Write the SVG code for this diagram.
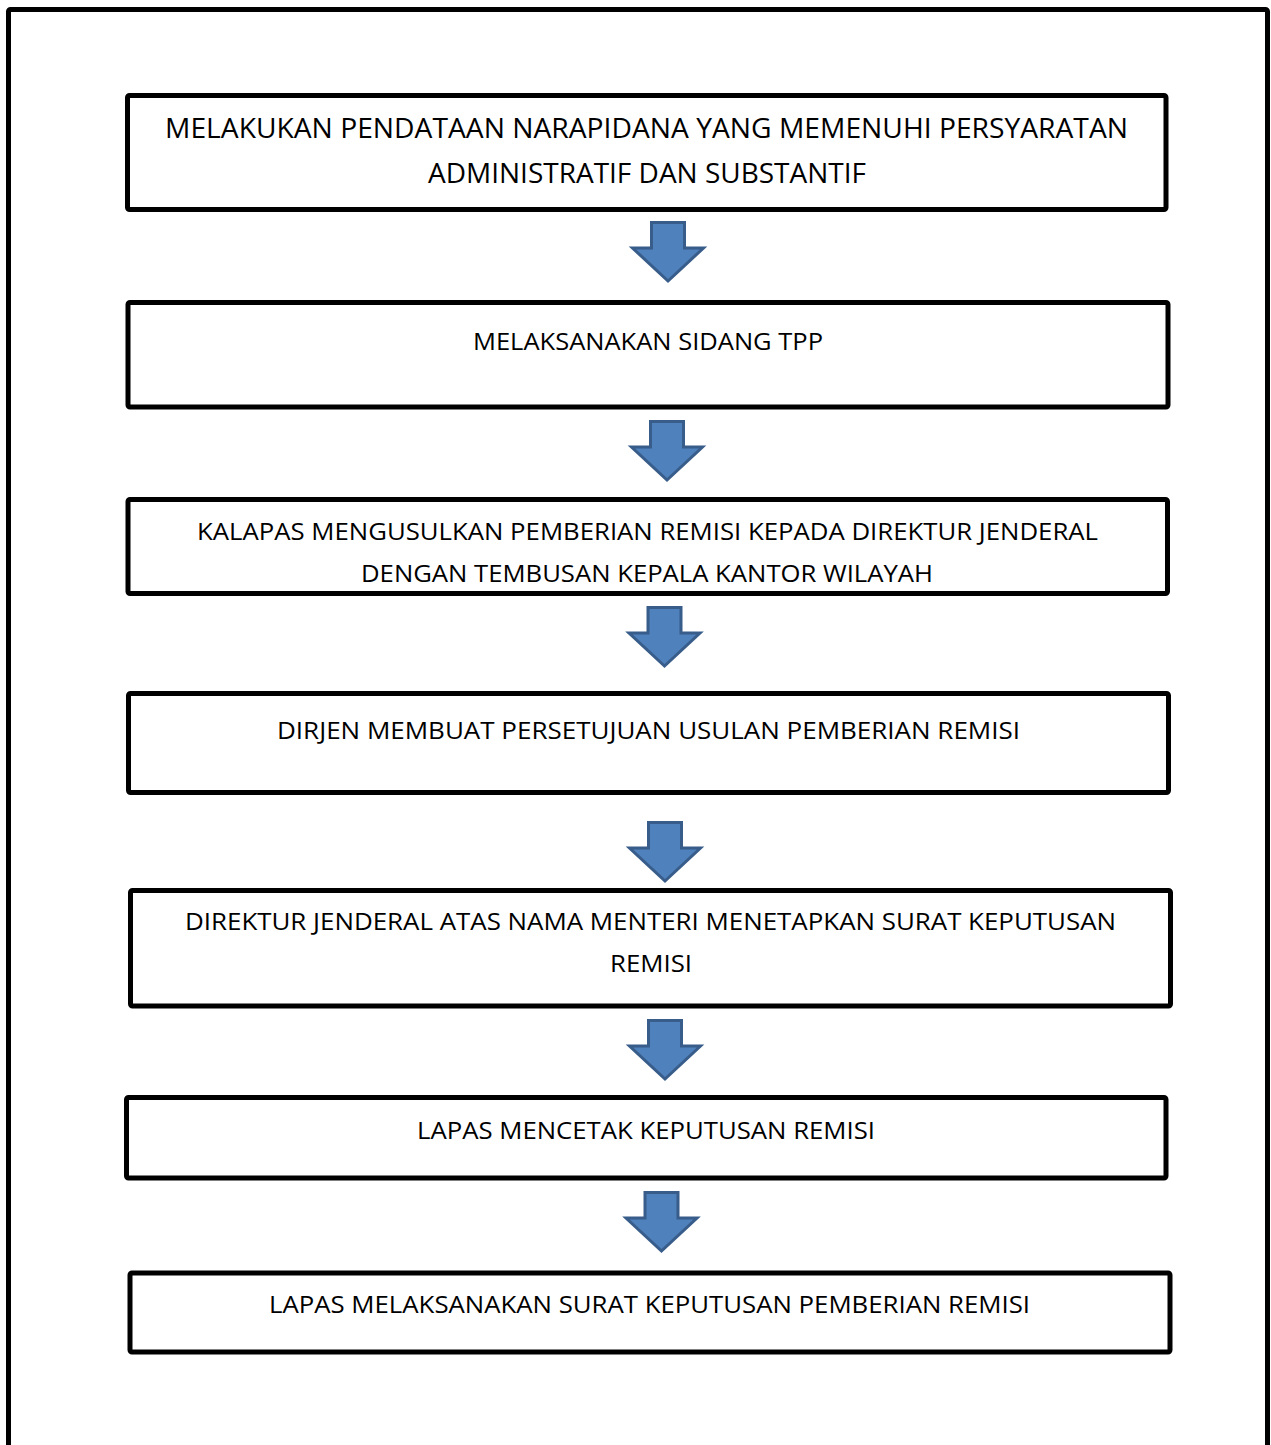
<svg xmlns="http://www.w3.org/2000/svg" width="1271" height="1445" viewBox="0 0 1271 1445">
<style>
.box{fill:#fff;stroke:#000;stroke-width:5;stroke-linejoin:round}
.t{font-family:"Open Sans","Liberation Sans",sans-serif;font-size:24px;fill:#000;text-anchor:middle}
.t1{font-size:27px}
.arr{fill:#4f81bd;stroke:#385d8a;stroke-width:3;stroke-linejoin:miter}
</style>
<defs>
<path id="arrow" class="arr" d="M-16.5,1.5 H16.5 V27 H35.5 L0,60 L-35.5,27 H-16.5 Z"/>
</defs>
<rect x="0" y="0" width="1271" height="1445" fill="#fff"/>
<rect x="8.5" y="9.5" width="1259" height="1500" fill="none" stroke="#000" stroke-width="5" rx="2"/>
<g id="connectors">
<use href="#arrow" transform="translate(668,221)"/>
<use href="#arrow" transform="translate(667,420)"/>
<use href="#arrow" transform="translate(664.5,606)"/>
<use href="#arrow" transform="translate(665,821)"/>
<use href="#arrow" transform="translate(665,1019)"/>
<use href="#arrow" transform="translate(661.5,1191)"/>
</g>
<g id="n1">
<rect class="box" x="127.5" y="95.5" width="1038.5" height="114" rx="2"/>
<text class="t t1" x="646.5" y="138" textLength="963" lengthAdjust="spacingAndGlyphs">MELAKUKAN PENDATAAN NARAPIDANA YANG MEMENUHI PERSYARATAN</text>
<text class="t t1" x="647" y="183" textLength="438" lengthAdjust="spacingAndGlyphs">ADMINISTRATIF DAN SUBSTANTIF</text>
</g>
<g id="n2">
<rect class="box" x="128" y="302.5" width="1040" height="104.5" rx="2"/>
<text class="t" x="648" y="350" textLength="350" lengthAdjust="spacingAndGlyphs">MELAKSANAKAN SIDANG TPP</text>
</g>
<g id="n3">
<rect class="box" x="128" y="499.5" width="1039.5" height="94" rx="2"/>
<text class="t" x="647.5" y="539.5" textLength="901" lengthAdjust="spacingAndGlyphs">KALAPAS MENGUSULKAN PEMBERIAN REMISI KEPADA DIREKTUR JENDERAL</text>
<text class="t" x="647" y="581.5" textLength="572" lengthAdjust="spacingAndGlyphs">DENGAN TEMBUSAN KEPALA KANTOR WILAYAH</text>
</g>
<g id="n4">
<rect class="box" x="128.5" y="693.5" width="1040" height="99" rx="2"/>
<text class="t" x="648.5" y="739" textLength="743" lengthAdjust="spacingAndGlyphs">DIRJEN MEMBUAT PERSETUJUAN USULAN PEMBERIAN REMISI</text>
</g>
<g id="n5">
<rect class="box" x="130.5" y="890.5" width="1040" height="115.5" rx="2"/>
<text class="t" x="650.5" y="930" textLength="931" lengthAdjust="spacingAndGlyphs">DIREKTUR JENDERAL ATAS NAMA MENTERI MENETAPKAN SURAT KEPUTUSAN</text>
<text class="t" x="651" y="972" textLength="82" lengthAdjust="spacingAndGlyphs">REMISI</text>
</g>
<g id="n6">
<rect class="box" x="126.5" y="1097.5" width="1039.5" height="80.5" rx="2"/>
<text class="t" x="646" y="1139" textLength="458" lengthAdjust="spacingAndGlyphs">LAPAS MENCETAK KEPUTUSAN REMISI</text>
</g>
<g id="n7">
<rect class="box" x="130" y="1273" width="1040" height="79" rx="2"/>
<text class="t" x="649.5" y="1313" textLength="761" lengthAdjust="spacingAndGlyphs">LAPAS MELAKSANAKAN SURAT KEPUTUSAN PEMBERIAN REMISI</text>
</g>
</svg>
